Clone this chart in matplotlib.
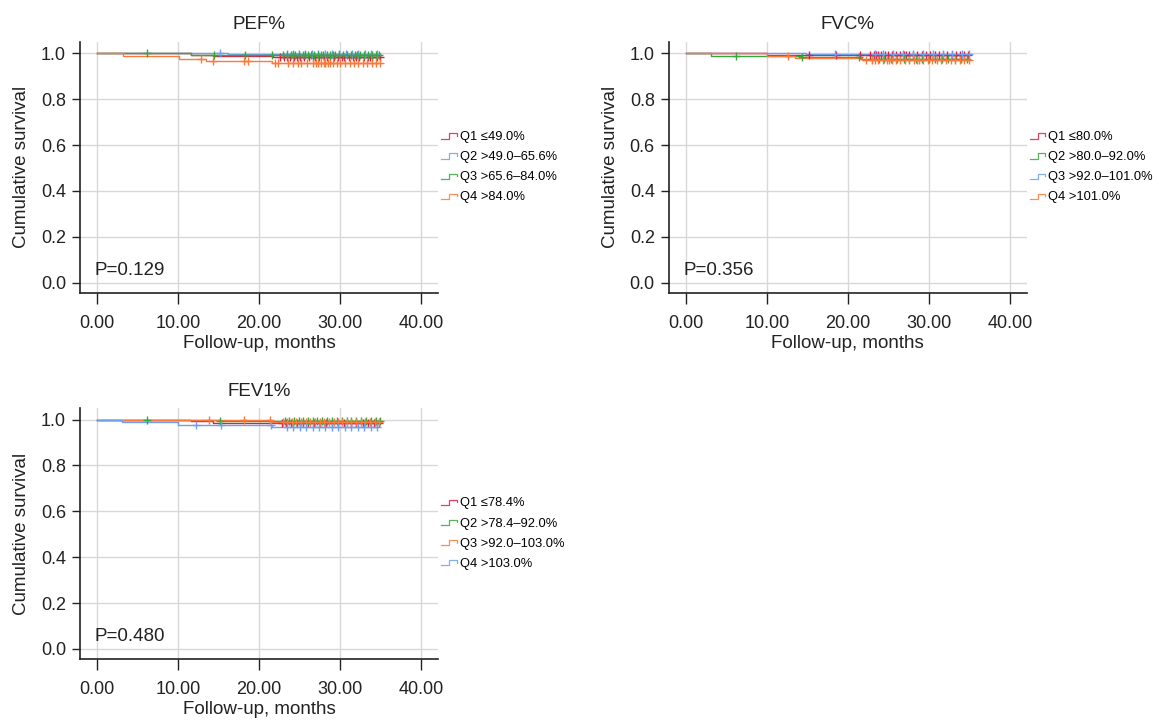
import matplotlib
matplotlib.use("Agg", force=True)
import matplotlib.pyplot as plt
from matplotlib.legend_handler import HandlerBase
from matplotlib.lines import Line2D
import numpy as np

plt.rcParams['font.family'] = ['Liberation Sans', 'DejaVu Sans']

RED = '#dc1f48'
BLUE = '#6f9ef0'
GREEN = '#35a83a'
ORANGE = '#fb7a3a'

# ---- PEF% ----
pef_labels = ['Q1 \u226449.0%', 'Q2 >49.0\u201365.6%', 'Q3 >65.6\u201384.0%', 'Q4 >84.0%']
pef_q1_t = [0, 11.6, 14.3, 21.7]
pef_q1_s = [1.0, 0.991, 0.987, 0.984]
pef_q1_c = [22.6, 23.1, 23.5, 23.8, 24.3, 24.7, 25.0, 25.6, 26.2, 26.6, 26.9, 27.4, 28.0, 28.4,
            28.7, 29.3, 29.8, 30.2, 30.5, 31.1, 31.6, 32.0, 32.3, 32.9, 33.4, 33.7, 34.0,
            34.5, 34.9]
pef_q2_t = [0, 16.2]
pef_q2_s = [1.0, 0.996]
pef_q2_c = [15.2, 23.5, 24.2, 24.9, 25.7, 26.5, 27.3, 28.2, 29.0, 29.9, 30.7, 31.5, 32.2,
            33.1, 33.8, 34.6]
pef_q3_t = [0, 11.6]
pef_q3_s = [1.0, 0.994]
pef_q3_c = [6.2, 14.5, 18.3, 21.6, 23.0, 23.4, 23.9, 24.2, 24.5, 24.9, 25.4, 25.7, 26.0, 26.4,
            26.8, 27.3, 27.6, 27.9, 28.4, 28.8, 29.1, 29.4, 29.9, 30.4, 30.9, 31.4, 31.8,
            32.1, 32.5, 33.0, 33.5, 34.0, 34.4, 34.8]
pef_q4_t = [0, 3.2, 10.1, 13.5, 21.6]
pef_q4_s = [1.0, 0.990, 0.975, 0.966, 0.956]
pef_q4_c = [12.8, 14.3, 18.2, 18.6, 22.0, 22.3, 23.6, 24.2, 24.8, 25.2, 25.9, 26.6, 27.0,
            27.3, 27.6, 28.0, 28.2, 28.5, 28.8, 29.1, 29.6, 30.0, 30.6, 31.2, 31.7, 32.2,
            32.8, 33.3, 33.9, 34.4, 34.9]

# ---- FVC% ----
fvc_labels = ['Q1 \u226480.0%', 'Q2 >80.0\u201392.0%', 'Q3 >92.0\u2013101.0%', 'Q4 >101.0%']
fvc_q1_t = [0, 10.0]
fvc_q1_s = [1.0, 0.993]
fvc_q1_c = [15.2, 18.6, 21.5, 22.8, 23.2, 23.5, 23.7, 24.1, 24.6, 25.0, 25.5, 26.0, 26.4,
            26.9, 27.2, 27.5, 28.0, 28.5, 29.1, 29.6, 30.2, 30.7, 31.2, 31.8, 32.3, 32.8,
            33.4, 33.9, 34.4, 34.8]
fvc_q2_t = [0, 3.1, 14.3, 21.6]
fvc_q2_s = [1.0, 0.990, 0.985, 0.977]
fvc_q2_c = [6.2, 14.4, 21.4, 23.0, 23.8, 24.5, 25.3, 26.1, 26.9, 27.6, 28.4, 29.2, 30.0,
            30.8, 31.6, 32.4, 33.2, 34.0, 34.7]
fvc_q3_t = [0, 14.8]
fvc_q3_s = [1.0, 0.995]
fvc_q3_c = [18.4, 23.3, 24.4, 25.6, 26.8, 28.0, 29.3, 30.5, 31.7, 32.9, 34.1, 34.9]
fvc_q4_t = [0, 10.0, 13.5, 21.8]
fvc_q4_s = [1.0, 0.990, 0.981, 0.970]
fvc_q4_c = [12.6, 22.3, 23.0, 23.4, 23.7, 24.3, 24.8, 25.1, 25.4, 25.9, 26.5, 27.1, 27.6,
            28.2, 28.5, 28.8, 29.3, 29.9, 30.4, 31.0, 31.5, 32.1, 32.7, 33.2, 33.8, 34.3, 34.9]

# ---- FEV1% ----
fev_labels = ['Q1 \u226478.4%', 'Q2 >78.4\u201392.0%', 'Q3 >92.0\u2013103.0%', 'Q4 >103.0%']
fev_q1_t = [0, 11.6, 14.3]
fev_q1_s = [1.0, 0.994, 0.986]
fev_q1_c = [22.8, 23.3, 24.0, 24.7, 25.4, 26.1, 26.8, 27.5, 28.3, 29.0, 29.8, 30.5, 31.3,
            32.0, 32.8, 33.5, 34.2, 34.8]
fev_q2_t = [0, 15.2]
fev_q2_s = [1.0, 0.995]
fev_q2_c = [6.2, 15.2, 23.2, 23.7, 24.3, 24.9, 25.4, 26.0, 26.6, 27.2, 27.8, 28.4, 29.0,
            29.6, 30.2, 30.8, 31.4, 32.0, 32.6, 33.2, 33.8, 34.4, 34.9]
fev_q3_t = [0, 21.6]
fev_q3_s = [1.0, 0.988]
fev_q3_c = [13.8, 18.2, 21.4, 22.9, 23.5, 24.1, 24.6, 25.2, 25.8, 26.3, 26.9, 27.5, 28.0,
            28.6, 29.2, 29.7, 30.3, 30.9, 31.4, 32.0, 32.6, 33.1, 33.7, 34.3, 34.8]
fev_q4_t = [0, 3.1, 10.0, 21.6]
fev_q4_s = [1.0, 0.990, 0.975, 0.966]
fev_q4_c = [12.2, 15.3, 21.5, 23.4, 24.2, 25.0, 25.8, 26.6, 27.4, 28.2, 29.0, 29.8, 30.6,
            31.4, 32.2, 33.0, 33.8, 34.6]

panels = [
    dict(title='PEF%', p='P=0.129', labels=pef_labels,
         groups=[(pef_q1_t, pef_q1_s, pef_q1_c, RED), (pef_q2_t, pef_q2_s, pef_q2_c, BLUE),
                 (pef_q3_t, pef_q3_s, pef_q3_c, GREEN), (pef_q4_t, pef_q4_s, pef_q4_c, ORANGE)],
         rect=[0.069, 0.594, 0.309, 0.348]),
    dict(title='FVC%', p='P=0.356', labels=fvc_labels,
         groups=[(fvc_q1_t, fvc_q1_s, fvc_q1_c, RED), (fvc_q2_t, fvc_q2_s, fvc_q2_c, GREEN),
                 (fvc_q3_t, fvc_q3_s, fvc_q3_c, BLUE), (fvc_q4_t, fvc_q4_s, fvc_q4_c, ORANGE)],
         rect=[0.577, 0.594, 0.309, 0.348]),
    dict(title='FEV1%', p='P=0.480', labels=fev_labels,
         groups=[(fev_q1_t, fev_q1_s, fev_q1_c, RED), (fev_q2_t, fev_q2_s, fev_q2_c, GREEN),
                 (fev_q3_t, fev_q3_s, fev_q3_c, ORANGE), (fev_q4_t, fev_q4_s, fev_q4_c, BLUE)],
         rect=[0.069, 0.086, 0.309, 0.348]),
]


class HandlerStep(HandlerBase):
    """Draw a small step-shaped line as the legend key."""
    def create_artists(self, legend, orig_handle, xdescent, ydescent, width, height, fontsize, trans):
        x0 = -xdescent
        y0 = -ydescent
        xs = [x0, x0 + 0.45 * width, x0 + 0.45 * width, x0 + 0.9 * width, x0 + 0.9 * width]
        ys = [y0 + 0.15 * height, y0 + 0.15 * height, y0 + 0.75 * height, y0 + 0.75 * height, y0 + 0.45 * height]
        line = Line2D(xs, ys, color=orig_handle.get_color(), lw=0.9, alpha=0.85, transform=trans)
        return [line]


fig = plt.figure(figsize=(11.59, 7.21), dpi=100)

for pan in panels:
    ax = fig.add_axes(pan['rect'])
    handles = []
    for t, s, c, color in pan['groups']:
        t = np.asarray(t, dtype=float)
        s = np.asarray(s, dtype=float)
        c = np.asarray(c, dtype=float)
        end = c.max()
        ax.step(np.r_[t, end], np.r_[s, s[-1]], where='post', color=color, lw=1.0, zorder=3)
        idx = np.searchsorted(t, c, side='right') - 1
        ax.plot(c, s[idx], linestyle='none', marker='+', ms=5.5, mew=1.0, color=color, zorder=4)
        handles.append(Line2D([], [], color=color))

    ax.set_xlim(-2.1, 42.1)
    ax.set_ylim(-0.044, 1.05)
    ax.set_xticks([0, 10, 20, 30, 40])
    ax.set_xticklabels(['%.2f' % v for v in [0, 10, 20, 30, 40]])
    ax.set_yticks([0.0, 0.2, 0.4, 0.6, 0.8, 1.0])
    ax.set_yticklabels(['%.1f' % v for v in [0.0, 0.2, 0.4, 0.6, 0.8, 1.0]])
    ax.grid(True, color='#d8d8d8', lw=1.0, zorder=0)
    ax.set_axisbelow(True)
    for side in ['top', 'right']:
        ax.spines[side].set_visible(False)
    for side in ['left', 'bottom']:
        ax.spines[side].set_color('#222222')
        ax.spines[side].set_linewidth(1.2)
    ax.tick_params(axis='x', direction='out', length=8, width=1.0, color='#222222',
                   labelsize=13, labelcolor='#222222', pad=8)
    ax.tick_params(axis='y', direction='out', length=6, width=1.0, color='#222222',
                   labelsize=13, labelcolor='#222222', pad=4)
    ax.set_xlabel('Follow-up, months', fontsize=13.5, color='#222222', labelpad=2)
    ax.set_ylabel('Cumulative survival', fontsize=13.5, color='#222222', labelpad=8)
    ax.set_title(pan['title'], fontsize=13.5, color='#222222', pad=9)
    ax.text(-0.3, 0.015, pan['p'], fontsize=13.5, color='#222222', ha='left', va='bottom')

    ax.legend(handles, pan['labels'], loc='center left', bbox_to_anchor=(0.995, 0.5),
              frameon=False, fontsize=9.3, handlelength=1.3, handletextpad=0.1,
              labelspacing=0.62, borderaxespad=0.0,
              handler_map={Line2D: HandlerStep()})

fig.savefig('out.png', dpi=100)
